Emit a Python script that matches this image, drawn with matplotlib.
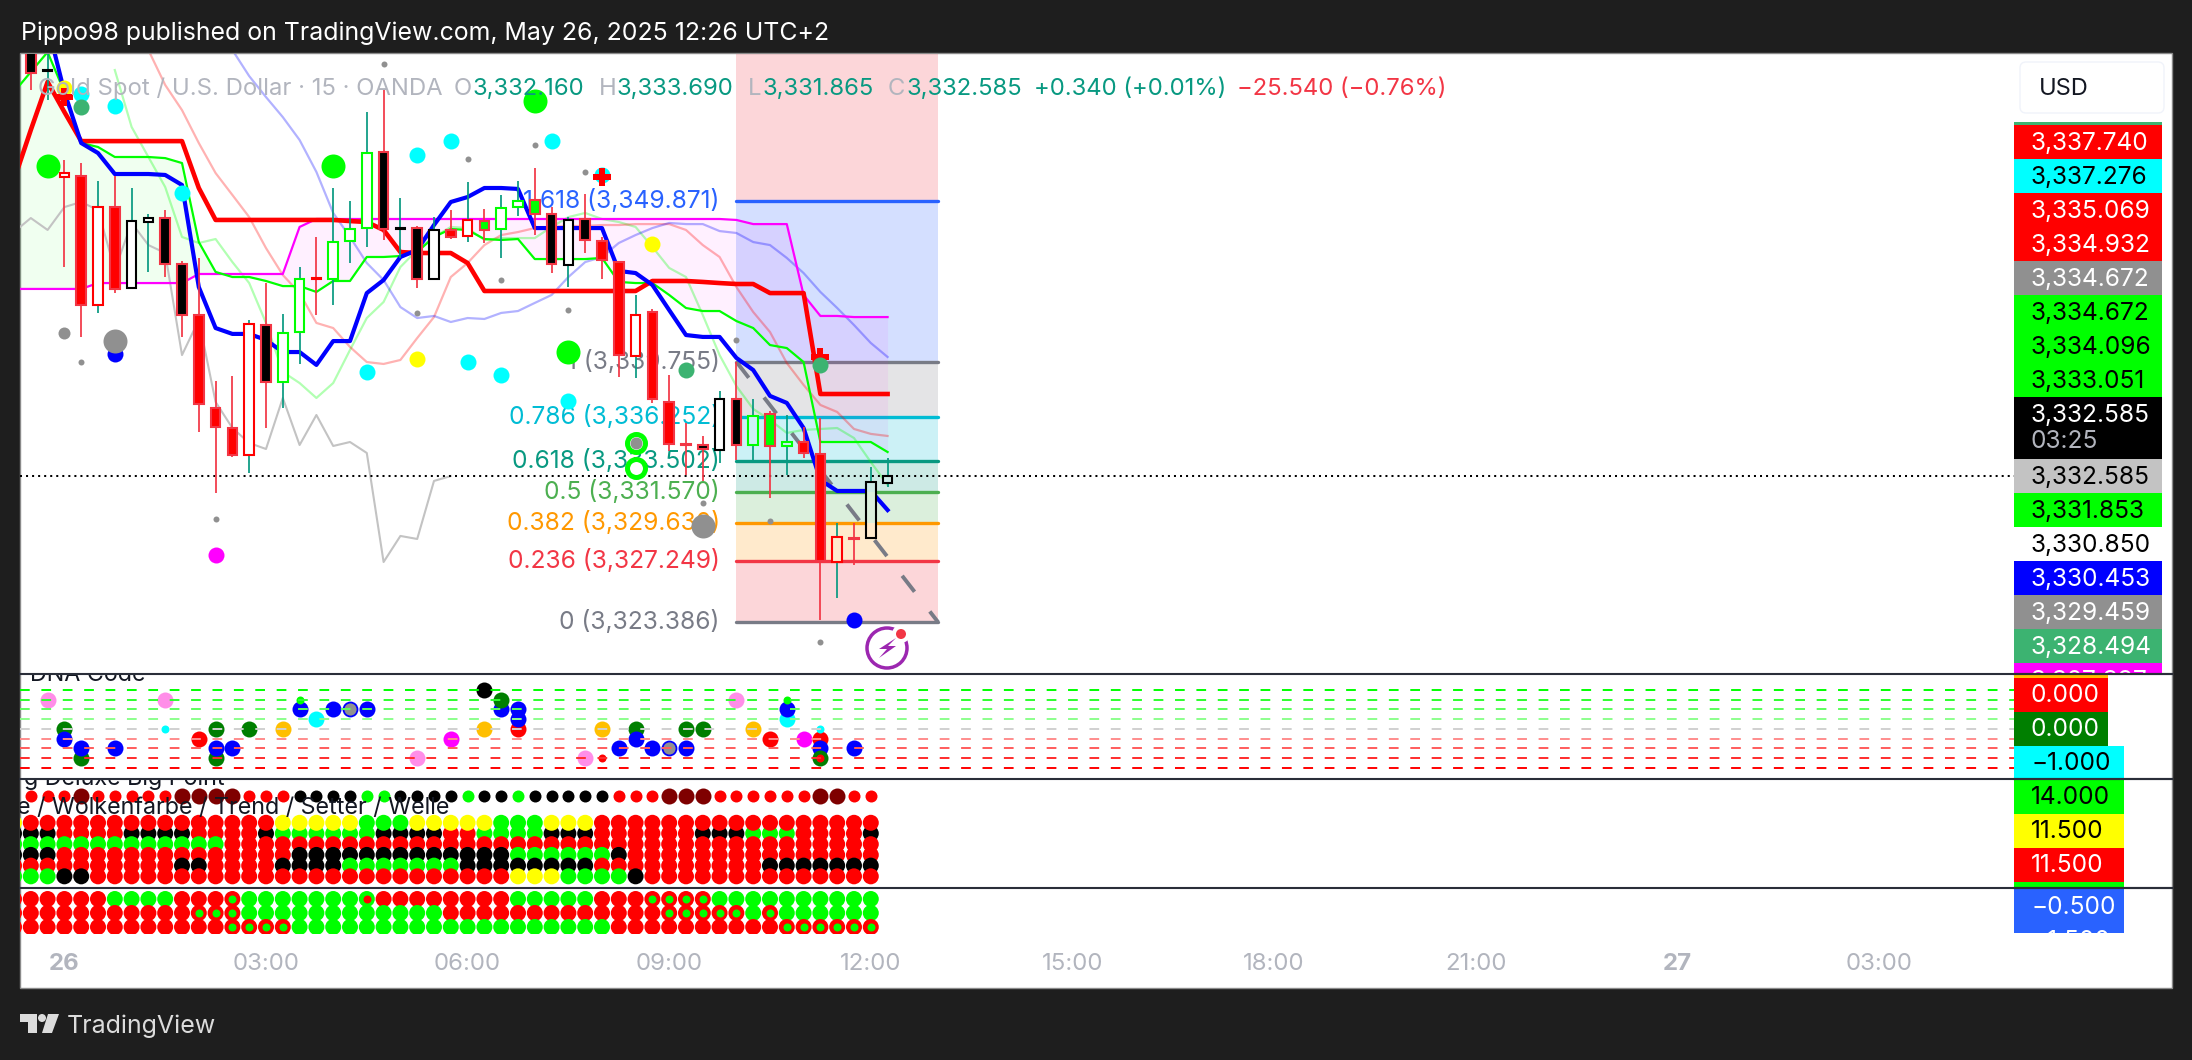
import numpy as np
import matplotlib
matplotlib.use('Agg')
import matplotlib.pyplot as plt
from matplotlib.patches import Rectangle, Circle, Polygon, FancyBboxPatch

plt.rcParams['font.family'] = ['Inter', 'DejaVu Sans']

W, H = 2192, 1060

# candles, first bar is index -2, one bar = 15 min, index 0 = 26 May 00:00
bar_first = -2
opens = [3360.50, 3358.05, 3351.63, 3351.44, 3343.33, 3349.49, 3344.40, 3348.55, 3348.80, 3345.91, 3342.70, 3336.85, 3335.59,
         3333.89, 3342.07, 3338.49, 3341.63, 3345.03, 3344.96, 3347.35, 3348.17, 3352.95, 3348.11, 3348.17, 3344.96, 3348.05,
         3347.67, 3348.61, 3348.11, 3349.49, 3349.93, 3349.05, 3345.85, 3348.74, 3347.35, 3346.03, 3340.12, 3342.89, 3337.23,
         3334.59, 3334.52, 3334.21, 3337.42, 3334.52, 3336.47, 3334.46, 3334.71, 3333.96, 3327.16, 3328.67, 3328.67, 3332.16]
highs = [3361.00, 3360.50, 3352.45, 3352.26, 3351.13, 3351.44, 3350.69, 3349.05, 3349.30, 3346.10, 3346.29, 3338.55, 3338.86,
         3342.39, 3344.71, 3342.76, 3345.72, 3347.61, 3350.69, 3349.87, 3355.47, 3356.85, 3350.06, 3348.30, 3348.86, 3349.30,
         3351.07, 3349.37, 3350.25, 3351.13, 3351.95, 3349.49, 3348.86, 3350.31, 3347.61, 3346.03, 3343.96, 3343.08, 3338.93,
         3335.91, 3335.09, 3337.92, 3339.74, 3337.42, 3336.66, 3336.41, 3335.66, 3336.22, 3329.62, 3329.62, 3333.14, 3333.69]
lows = [3356.85, 3356.22, 3345.72, 3341.32, 3342.83, 3344.08, 3344.40, 3345.41, 3345.09, 3341.32, 3335.34, 3331.50, 3333.77,
        3332.76, 3335.59, 3336.85, 3339.62, 3342.70, 3343.33, 3345.97, 3346.98, 3347.42, 3346.29, 3344.40, 3344.96, 3347.48,
        3347.29, 3347.23, 3346.29, 3348.93, 3347.73, 3345.34, 3344.46, 3346.60, 3344.96, 3338.80, 3338.74, 3337.17, 3334.15,
        3332.64, 3332.26, 3333.39, 3333.58, 3333.58, 3331.19, 3332.64, 3333.71, 3323.52, 3324.90, 3326.98, 3328.67, 3331.865]
closes = [3357.92, 3358.11, 3351.38, 3343.33, 3349.49, 3344.34, 3348.61, 3348.80, 3345.91, 3342.70, 3337.10, 3335.66, 3333.89,
          3342.13, 3338.49, 3341.57, 3344.96, 3344.96, 3347.29, 3348.11, 3352.89, 3348.11, 3348.17, 3344.96, 3348.05, 3347.61,
          3348.68, 3348.05, 3349.43, 3349.87, 3349.05, 3345.91, 3348.68, 3347.42, 3346.16, 3340.18, 3342.70, 3337.42, 3334.59,
          3334.52, 3334.27, 3337.42, 3334.52, 3336.35, 3334.46, 3334.71, 3334.02, 3327.23, 3328.74, 3328.62, 3332.20, 3332.585]
# R K G = filled red/black/lime, r k g = hollow with that edge
bar_codes = "KkrRrRkkKKRRRrKggrgggKkKkRrGggGKkKRRrRRRKkKgGgRRrRkk"

# lines
blue_line = [3360.94, 3356.73, 3353.52, 3352.89, 3351.57, 3351.57, 3351.57, 3351.51, 3350.88, 3344.46, 3341.88, 3341.51, 3341.51,
             3341.13, 3340.37, 3340.37, 3339.56, 3341.06, 3341.06, 3344.08, 3344.90, 3346.35, 3346.79, 3348.36, 3349.81, 3350.12,
             3350.69, 3350.69, 3350.63, 3348.17, 3348.17, 3348.17, 3348.17, 3348.17, 3345.47, 3345.34, 3344.59, 3343.01, 3341.44,
             3341.32, 3341.32, 3340.00, 3339.24, 3337.61, 3337.17, 3335.59, 3332.32, 3331.63, 3331.63, 3331.63, 3330.43]
red_line = [3351.19, 3354.34, 3357.36, 3355.47, 3353.64, 3353.64, 3353.64, 3353.64, 3353.64, 3353.64, 3353.64, 3350.69, 3348.68,
            3348.68, 3348.68, 3348.68, 3348.68, 3348.68, 3348.68, 3348.68, 3348.61, 3348.55, 3348.05, 3346.66, 3346.60, 3346.60,
            3346.60, 3345.97, 3344.21, 3344.21, 3344.21, 3344.21, 3344.21, 3344.21, 3344.21, 3344.21, 3344.21, 3344.21, 3344.84,
            3344.84, 3344.84, 3344.78, 3344.71, 3344.65, 3344.65, 3344.08, 3344.08, 3344.08, 3337.73, 3337.73, 3337.73, 3337.73, 3337.73]
lime_line = [3356.73, 3357.99, 3359.24, 3356.73, 3353.52, 3353.27, 3352.64, 3352.64, 3352.64, 3352.57, 3352.26, 3347.29, 3345.41,
             3345.09, 3345.09, 3344.84, 3344.52, 3344.52, 3344.15, 3344.84, 3344.84, 3346.35, 3346.35, 3346.41, 3346.66, 3347.61,
             3348.11, 3348.05, 3347.48, 3347.42, 3347.48, 3346.22, 3346.22, 3346.22, 3346.22, 3346.29, 3344.78, 3344.71, 3344.71,
             3343.96, 3343.14, 3342.95, 3342.95, 3342.32, 3341.88, 3340.81, 3340.62, 3339.74, 3334.71, 3334.71, 3334.71, 3334.71, 3334.08]
magenta_line = [3344.34, 3344.34, 3344.34, 3344.34, 3344.34, 3344.71, 3344.71, 3344.71, 3344.71, 3344.71, 3344.71, 3345.28, 3345.28,
                3345.28, 3345.28, 3345.28, 3345.28, 3348.24, 3348.74, 3348.74, 3348.74, 3348.74, 3348.74, 3348.74, 3348.74, 3348.74,
                3348.74, 3348.74, 3348.74, 3348.74, 3348.74, 3348.74, 3348.74, 3348.74, 3348.74, 3348.74, 3348.74, 3348.74, 3348.74,
                3348.74, 3348.74, 3348.74, 3348.74, 3348.68, 3348.42, 3348.42, 3348.42, 3343.96, 3342.64, 3342.64, 3342.57, 3342.57, 3342.57]
gray_line = [3347.92, 3348.80, 3348.05, 3349.49, 3349.81, 3349.30, 3345.53, 3348.49, 3347.10, 3346.60, 3340.18, 3342.39, 3337.23,
             3335.59, 3334.65, 3334.27, 3337.48, 3334.52, 3336.41, 3334.46, 3334.71, 3334.02, 3327.16, 3328.80, 3328.61, 3332.26, 3332.57]
pale_green_line = [3358.11, 3354.53, 3352.64, 3350.75, 3347.61, 3347.23, 3347.48, 3346.03, 3344.71, 3342.20, 3339.12, 3338.42, 3337.48,
                   3338.42, 3340.50, 3342.51, 3343.52, 3345.72, 3346.79, 3347.61, 3348.24, 3348.17, 3347.42, 3347.54, 3347.54, 3347.54,
                   3348.24, 3348.86, 3349.12, 3348.74, 3348.55, 3348.24, 3346.98, 3345.66, 3345.09, 3342.70, 3340.18, 3338.23, 3336.79,
                   3336.10, 3335.28, 3335.47, 3335.53, 3335.59, 3334.96, 3333.45, 3332.01]
salmon_line = [3359.37, 3357.17, 3355.59, 3353.52, 3351.63, 3350.25, 3348.86, 3346.91, 3345.22, 3344.08, 3342.20, 3341.88, 3340.69,
               3339.74, 3339.62, 3339.87, 3341.25, 3342.57, 3345.09, 3345.97, 3347.10, 3347.73, 3347.92, 3348.17, 3348.24, 3348.30,
               3348.30, 3348.36, 3348.36, 3348.42, 3348.42, 3348.42, 3348.05, 3347.10, 3346.35, 3344.46, 3342.89, 3341.63, 3339.68,
               3338.30, 3337.04, 3336.60, 3335.53, 3335.22, 3335.09]
pale_blue_line = [3359.37, 3357.73, 3356.41, 3355.15, 3353.71, 3351.70, 3349.12, 3347.61, 3345.97, 3344.90, 3343.20, 3342.51, 3342.64,
                  3342.26, 3342.51, 3342.45, 3342.83, 3342.95, 3343.46, 3343.96, 3345.09, 3346.03, 3346.35, 3347.23, 3347.73, 3348.17,
                  3348.49, 3348.42, 3348.42, 3347.98, 3347.86, 3347.29, 3347.10, 3346.29, 3345.34, 3344.15, 3343.14, 3342.07, 3340.94, 3340.06]

# fib retracement
fib_start, fib_end = 40, 52
fib_prices = [3323.386, 3327.249, 3329.630, 3331.570, 3333.502, 3336.252, 3339.755, 3349.871, 3366.240]
fib_names = ['0', '0.236', '0.382', '0.5', '0.618', '0.786', '1', '1.618']
fib_texts = ['3,323.386', '3,327.249', '3,329.630', '3,331.570', '3,333.502', '3,336.252', '3,339.755', '3,349.871']
fib_colors = ['#787b86', '#f23645', '#ff9800', '#4caf50', '#089981', '#00bcd4', '#787b86', '#2962ff']
band_colors = ['#f23645', '#ff9800', '#4caf50', '#089981', '#00bcd4', '#787b86', '#2962ff', '#f23645']

# dots on the price pane
lime_dots = ([-1, 16, 28, 30], [3352.07, 3352.07, 3356.16, 3340.37])
cyan_dots = ([1, 3, 7, 21, 23, 29, 32, 18, 24, 26, 30],
             [3356.60, 3355.85, 3350.37, 3352.76, 3353.64, 3353.64, 3351.51, 3339.12, 3339.74, 3338.93, 3337.29])
yellow_dots = ([21, 35, 0], [3339.93, 3347.17, 3356.98])
cross_marks = ([0, 32, 45], [3356.41, 3351.38, 3340.06])
sea_dots = ([1, 37, 45], [3355.78, 3339.24, 3339.56])
tiny_gray = ([19, 24, 21, 26, 1, 9, 28, 31, 30, 40, 38, 42, 45],
             [3358.49, 3352.51, 3342.83, 3344.90, 3339.74, 3329.87, 3353.39, 3351.70, 3343.01, 3341.13, 3330.88, 3329.74, 3322.13])
mid_gray = ([0, 34], [3341.57, 3334.65])
big_gray = ([3, 38], [3341.06, 3329.43])
blue_dots = ([3, 47], [3340.25, 3323.52])
magenta_dots = ([9], [3327.60])
ring_dots = ([34, 34], [3334.65, 3333.08])
last_price = 3332.585

# DNA Code pane
dna_levels = [4, 3, 2, 1, 0, -1, -2, -3, -4]
dna_level_colors = ['#00ff00', '#2cff2c', '#5cff5c', '#8cff8c', '#d0d0d0', '#ff8c8c', '#ff5c5c', '#ff2c2c', '#ff0000']
dna_x = [-1, 0, 0, 1, 1, 3, 6, 6, 8, 9, 9, 9, 10, 11, 13, 14, 14, 15, 16, 17, 18, 21, 23, 25, 25,
         26, 26, 27, 27, 27, 32, 31, 32, 33, 34, 34, 35, 36, 37, 37, 38, 40, 41, 42, 43, 43, 43, 44, 45, 45, 45, 45, 45, 47]
dna_y = [3, 0, -1, -3, -2, -2, 3, 0, -1, 0, -3, -2, -2, 0, 0, 2, 3, 1, 2, 2, 2, -3, -1, 4, 0,
         2, 3, 0, 1, 2, 0, -3, -3, -2, 0, -1, -2, -2, 0, -2, 0, 3, 0, -1, 1, 2, 3, -1, 0, -1, -2, -3, -3, -2]
dna_c = ['pink', 'green', 'blue', 'green', 'blue', 'blue', 'pink', 'cyan2', 'red', 'green', 'green', 'blue', 'blue', 'green', 'orange',
         'blue', 'lime2', 'cyan', 'blue', 'graybl', 'blue', 'pink', 'magenta', 'black', 'orange',
         'blue', 'green', 'red', 'blue', 'blue', 'orange', 'pink', 'red2', 'blue', 'green', 'blue', 'blue', 'graybl', 'green', 'blue',
         'green', 'pink', 'orange', 'red', 'cyan', 'blue', 'lime2', 'magenta', 'cyan2', 'red', 'blue', 'green', 'red2', 'blue']

# Big Point / Wolkenfarbe pane, one string per row, letter per bar
big_first = -2
big_level = 14
big_row = "rrrdrrrrrddddrrrkkkkggkkkkgkkgkkkkkrrrdddrrrrrrddrr"
trend_first = -3
trend_levels = [11.5, 10.5, 9.5, 8.5, 7.5, 6.5]
trend_rows = ["yrrrrrrrrrrrrrrryyyyygggyyyyygggyyyrrrrrrrrrrrrrrrrr",
              "kkkrrrrkkkkrrrrkggggggkkkkrrggggkkkrrrrrrkkkgggrrrrk",
              "gggggggggggggrrrrrrrrrrrrrrrrrrrrrrrrrrrrrrrrrrrrrrr",
              "kkkrrrrrrrrrrrrrrkkkkkkkkkkkkkggggggkrrrrrrrrrrrrrrr",
              "rrrrrrrrrrkkrrrrkkkkgggggggkkkkkkkkrrrrrrrrrrkkkkkkk",
              "gggkkrrrrrrrrrrrrrrrrrrrrrrrrryyyggggkrrrrrrrrrrrrrr"]

# last pane, R = red with lime centre, G = lime with red centre
cross_levels = [0, -1, -2]
cross_rows = ["rrrrrrggggrrrRgggggggGrrrrrrrrgggggrrrRRRRgggggggggg",
              "rrrrrrrrrrrRRRggggggggggggrrrrrrrrrrrrrRRRRRgRgggggg",
              "rrrrrrrrrrrrrRRRRgggggggggggggggggggrrrrrrrrrrRRRRRR"]

tick_pos = [0, 12, 24, 36, 48, 60, 72, 84, 96, 108]
tick_labels = ['26', '03:00', '06:00', '09:00', '12:00', '15:00', '18:00', '21:00', '27', '03:00']

title = 'Pippo98 published on TradingView.com, May 26, 2025 12:26 UTC+2'
legend_parts = [(38, 'Gold Spot / U.S. Dollar · 15 · OANDA', '#b2b5be'), (454, 'O', '#b2b5be'), (473, '3,332.160', '#089981'),
                (599, 'H', '#b2b5be'), (617, '3,333.690', '#089981'), (748, 'L', '#b2b5be'), (762, '3,331.865', '#089981'),
                (888, 'C', '#b2b5be'), (906, '3,332.585', '#089981'), (1034, '+0.340 (+0.01%)', '#089981'),
                (1237, '\u221225.540 (\u22120.76%)', '#f23645')]

# right scale tags
tag_texts = ['', '3,337.740', '3,337.276', '3,335.069', '3,334.932', '3,334.672', '3,334.672', '3,334.096', '3,333.051', '3,332.585',
             '3,332.585', '3,331.853', '3,330.850', '3,330.453', '3,329.459', '3,328.494', '3,327.397',
             '', '0.000', '0.000', '\u22121.000', '14.000', '11.500', '11.500', '', '\u22120.500', '\u22121.500']
tag_tops = [122, 125, 159, 193, 227, 261, 295, 329, 363, 397, 459, 493, 527, 561, 595, 629, 663,
            674, 678, 712, 746, 780, 814, 848, 882, 889, 923]
tag_bottoms = [125, 159, 193, 227, 261, 295, 329, 363, 397, 459, 493, 527, 561, 595, 629, 663, 674,
               678, 712, 746, 779, 814, 848, 882, 888, 923, 933]
tag_rights = [2162] * 17 + [2108, 2108, 2108, 2124, 2124, 2124, 2124, 2124, 2124, 2124]
tag_fills = ['#3cb371', '#ff0000', '#00ffff', '#ff0000', '#ff0000', '#909090', '#00ff00', '#00ff00', '#00ff00', '#000000',
             '#c3c3c3', '#00ff00', '#ffffff', '#0000ff', '#909090', '#3cb371', '#ff00ff',
             '#ffbf00', '#ff0000', '#007f00', '#00ffff', '#00ff00', '#ffff00', '#ff0000', '#00ff00', '#2962ff', '#2962ff']
tag_inks = ['w', 'w', 'k', 'w', 'w', 'w', 'k', 'k', 'k', 'w', 'k', 'k', 'k', 'w', 'w', 'w', 'w',
            'k', 'w', 'w', 'k', 'k', 'k', 'w', 'k', 'w', 'w']

dark = '#1e1e1e'
fig = plt.figure(figsize=(W / 100, H / 100), dpi=100, facecolor=dark)


def px_axes(x0, y0, x1, y1, z):
    a = fig.add_axes([x0 / W, 1 - y1 / H, (x1 - x0) / W, (y1 - y0) / H], zorder=z)
    a.patch.set_alpha(0)
    for s in a.spines.values():
        s.set_visible(False)
    a.set_xticks([])
    a.set_yticks([])
    return a


# background and overlay, both in pixels
bg = px_axes(0, 0, W, H, 0)
bg.set_xlim(0, W)
bg.set_ylim(H, 0)
bg.add_patch(Rectangle((20, 53), 2152, 935, fc='white', ec='#8a8a8a', lw=1))

over = px_axes(0, 0, W, H, 5)
over.set_xlim(0, W)
over.set_ylim(H, 0)

x_lim = (-2.643, 116.05)

# price pane
ax = px_axes(20, 54, 2014, 674, 1)
ax.set_xlim(*x_lim)
ax.set_ylim(3320.115, 3359.12)

for i in range(len(band_colors)):
    ax.fill_between([fib_start, fib_end], fib_prices[i], fib_prices[i + 1], color=band_colors[i], alpha=0.2, lw=0, zorder=1)
for i in range(len(fib_names)):
    ax.plot([fib_start, fib_end], [fib_prices[i]] * 2, color=fib_colors[i], lw=2.4, solid_capstyle='round', zorder=1.2)
    ax.annotate(f'{fib_names[i]} ({fib_texts[i]})', (fib_start, fib_prices[i]), xytext=(-12, 0),
                textcoords='offset points', ha='right', va='center', color=fib_colors[i], fontsize=17.7, zorder=1.5)
ax.plot([fib_start, fib_end], [fib_prices[6], fib_prices[0]], color='#787b86', lw=2.8, ls=(0, (5.2, 6.4)), zorder=1.3)

x_lime = np.arange(-3, 50)
lime_a = np.array(lime_line)
mag_a = np.array(magenta_line)
ax.fill_between(x_lime, lime_a, mag_a, where=lime_a >= mag_a, interpolate=True, color='#00ff00', alpha=0.06, lw=0, zorder=1.6)
ax.fill_between(x_lime, lime_a, mag_a, where=lime_a <= mag_a, interpolate=True, color='#ff00ff', alpha=0.06, lw=0, zorder=1.6)

ax.plot(np.arange(-3, 24), gray_line, color='#c3c3c3', lw=1.5, zorder=2)
ax.plot(np.arange(3, 50), pale_green_line, color='#00ff00', alpha=0.3, lw=1.6, zorder=2)
ax.plot(np.arange(5, 50), salmon_line, color='#ff0000', alpha=0.3, lw=1.6, zorder=2)
ax.plot(np.arange(10, 50), pale_blue_line, color='#0000ff', alpha=0.3, lw=1.6, zorder=2)
ax.plot(x_lime, magenta_line, color='#ff00ff', lw=1.6, zorder=2.1)
ax.plot(x_lime, lime_line, color='#00ff00', lw=1.6, zorder=2.1)
ax.plot(x_lime, red_line, color='#ff0000', lw=3.3, zorder=2.2)
ax.plot(np.arange(-1, 50), blue_line, color='#0000ff', lw=3.0, zorder=2.3)
ax.axhline(last_price, color='black', lw=1.45, ls=(0, (1, 2)), zorder=2.4)

# candles
body_w = 0.58
for i, code in enumerate(bar_codes):
    x = bar_first + i
    o, h, l, c = opens[i], highs[i], lows[i], closes[i]
    top, bot = max(o, c), min(o, c)
    wick = '#089981' if c >= o else '#f23645'
    ax.vlines(x, top, h, color=wick, lw=1.25, zorder=3)
    ax.vlines(x, l, bot, color=wick, lw=1.25, zorder=3)
    if code in 'rkg':
        edge = {'r': '#ff0000', 'k': '#000000', 'g': '#00ff00'}[code]
        ax.bar(x, top - bot, bottom=bot, width=body_w, color='white', lw=0, zorder=3.1)
        if x >= fib_start:
            # hollow bodies show the fib bands, not the lines behind
            for j in range(len(band_colors)):
                lo = max(bot, fib_prices[j])
                hi = min(top, fib_prices[j + 1])
                if hi > lo:
                    ax.bar(x, hi - lo, bottom=lo, width=body_w, color=band_colors[j], alpha=0.2, lw=0, zorder=3.2)
        ax.bar(x, top - bot, bottom=bot, width=body_w, fc='none', ec=edge, lw=1.5, zorder=3.3)
    else:
        fill = {'R': '#ff0000', 'K': '#000000', 'G': '#00ff00'}[code]
        ax.bar(x, top - bot, bottom=bot, width=body_w, fc=fill, ec='#f23645', lw=1.5, zorder=3.3)


# markers, diameters in px converted to points
def dots(a, xy, d, color, z=4):
    a.scatter(xy[0], xy[1], s=(d * 0.72) ** 2, c=color, linewidths=0, zorder=z)


dots(ax, cyan_dots, 16, '#00ffff')
dots(ax, yellow_dots, 16, '#ffff00')
dots(ax, lime_dots, 24, '#00ff00')
ax.scatter(ring_dots[0], ring_dots[1], s=(18 * 0.72) ** 2, fc='white', ec='#00ff00', lw=3.6, zorder=4)
dots(ax, blue_dots, 16, '#0000ff')
dots(ax, magenta_dots, 16, '#ff00ff')
dots(ax, big_gray, 24, '#909090', z=4.1)
dots(ax, mid_gray, 12, '#909090', z=4.1)
dots(ax, tiny_gray, 6, '#909090', z=4.1)
ax.scatter(cross_marks[0], cross_marks[1], s=170, c='#ff0000', marker='P', linewidths=0, zorder=4.2)
dots(ax, sea_dots, 16, '#3cb371', z=4.3)

# DNA pane
ax2 = px_axes(20, 674, 2014, 779, 1)
ax2.set_xlim(*x_lim)
ax2.set_ylim(-5.13, 5.64)
dna_colors = {'pink': '#ff8ee8', 'green': '#007f00', 'blue': '#0000ff', 'cyan': '#00ffff', 'cyan2': '#00ffff', 'red': '#ff0000',
              'red2': '#ff0000', 'orange': '#ffbf00', 'lime2': '#00ff00', 'magenta': '#ff00ff', 'black': '#000000', 'graybl': '#909090'}
for x, y, c in zip(dna_x, dna_y, dna_c):
    small = c in ('cyan2', 'lime2', 'red2')
    d = 8 if small else 16
    if c == 'graybl':
        ax2.scatter(x, y, s=(14 * 0.72) ** 2, fc='#909090', ec='#0000ff', lw=1.3, zorder=2)
    else:
        ax2.scatter(x, y, s=(d * 0.72) ** 2, c=dna_colors[c], lw=0, zorder=3 if small else 2)
for lv, c in zip(dna_levels, dna_level_colors):
    ax2.axhline(lv, color=c, lw=1.4, ls=(0, (5, 6)), zorder=4)
ax2.text(0.0628, 0.93, 'DNA Code', transform=ax2.transAxes, ha='right', fontsize=16.8, color='#131722', va='baseline', clip_on=True, zorder=5)

# Big point / trend pane
ax3 = px_axes(20, 779, 2014, 888, 1)
ax3.set_xlim(*x_lim)
ax3.set_ylim(5.41, 15.59)
row_colors = {'r': '#ff0000', 'g': '#00ff00', 'k': '#000000', 'y': '#ffff00', 'd': '#7f0000'}
for i, code in enumerate(big_row):
    d = 16 if code == 'd' else 12
    ax3.scatter(big_first + i, big_level, s=(d * 0.72) ** 2, c=row_colors[code], lw=0, zorder=2)
# second row goes first, its dots sit behind the two next to it
for n, r in enumerate([1, 0, 2, 3, 4, 5]):
    ax3.scatter(np.arange(len(trend_rows[r])) + trend_first, [trend_levels[r]] * len(trend_rows[r]), s=(16 * 0.72) ** 2,
                c=[row_colors[ch] for ch in trend_rows[r]], lw=0, zorder=3 + n * 0.1)
ax3.text(0.1028, 0.945, 'g Deluxe Big Point', transform=ax3.transAxes, ha='right', fontsize=16.8, color='#131722', va='baseline', clip_on=True, zorder=5)
ax3.text(0.2151, 0.68, 'e / Wolkenfarbe / Trend / Setter / Welle', transform=ax3.transAxes, ha='right', fontsize=16.8, color='#131722', va='baseline', clip_on=True, zorder=5)

# last pane, also carries the time axis
ax4 = px_axes(20, 888, 2014, 934, 1)
ax4.set_xlim(*x_lim)
ax4.set_ylim(-2.5, 0.786)
for n, row in enumerate(cross_rows):
    xs = np.arange(len(row)) + trend_first
    outer = ['#00ff00' if ch in 'gG' else '#ff0000' for ch in row]
    ax4.scatter(xs, [cross_levels[n]] * len(row), s=(16 * 0.72) ** 2, c=outer, lw=0, zorder=2 + n * 0.1)
for n, row in enumerate(cross_rows):
    for i, ch in enumerate(row):
        if ch in 'RG':
            ax4.scatter(trend_first + i, cross_levels[n], s=(8 * 0.72) ** 2, c='#00ff00' if ch == 'R' else '#ff0000', lw=0, zorder=3)
ax4.set_xticks(tick_pos)
ax4.set_xticklabels(tick_labels, fontsize=17.3, color='#b2b5be')
ax4.tick_params(axis='x', length=0, pad=14)
ax4.get_xticklabels()[0].set_fontweight('bold')
ax4.get_xticklabels()[8].set_fontweight('bold')

# separators
for y in [674, 779, 888]:
    over.plot([20, 2172], [y, y], color='#2a2e39', lw=1.5, zorder=6)

# legend line + header + footer
over.text(21, 33, title, color='white', fontsize=17.9, va='center')
for x, s, c in legend_parts:
    over.text(x, 89, s, color=c, fontsize=17.2, va='center', zorder=2)

over.add_patch(FancyBboxPatch((2026, 68), 132, 39, boxstyle='round,pad=6', fc='white', ec='#f0f3fa', lw=1))
over.text(2039, 89, 'USD', color='#131722', fontsize=17, va='center')

# right scale tags, clip so cut ones stay cut
for i, s in enumerate(tag_texts):
    top, bot = tag_tops[i], tag_bottoms[i]
    over.add_patch(Rectangle((2014, top), tag_rights[i] - 2014, bot - top, fc=tag_fills[i], lw=0, zorder=3))
    if s:
        ink = 'white' if tag_inks[i] == 'w' else 'black'
        t = over.text(2031, top + 18, s, color=ink, fontsize=17.6, va='center', zorder=4)
        t.set_clip_path(Rectangle((2014, top), 160, bot - top, transform=over.transData))
        t.set_clip_on(True)
over.text(2031, 441, '03:25', color='#b2b5be', fontsize=17.6, va='center', zorder=4)
for y in [674, 779, 888]:
    over.plot([2014, 2172], [y, y], color='#2a2e39', lw=1.5, zorder=6)

# alert icon
over.add_patch(Circle((887, 648), 20, fc='none', ec='#9c27b0', lw=2.5, zorder=5))
over.add_patch(Circle((901, 634), 9, fc='white', lw=0, zorder=5.1))
over.add_patch(Circle((901, 634), 5, fc='#f23645', lw=0, zorder=5.2))
over.add_patch(Polygon([(896, 638), (879, 649), (887, 649), (879, 658), (896, 646), (888, 646)], fc='#9c27b0', lw=0, zorder=5.1))

# TradingView footer
logo = '#dcdcdc'
over.add_patch(Polygon([(20, 1014), (37, 1014), (37, 1033), (28, 1033), (28, 1022), (20, 1022)], fc=logo, lw=0))
over.add_patch(Circle((42, 1018), 4, fc=logo, lw=0))
over.add_patch(Polygon([(48, 1014), (59, 1014), (52, 1033), (42, 1033)], fc=logo, lw=0))
over.text(67, 1026, 'TradingView', color=logo, fontsize=18, va='center')

fig.savefig('out.png', dpi=100, facecolor=dark)
